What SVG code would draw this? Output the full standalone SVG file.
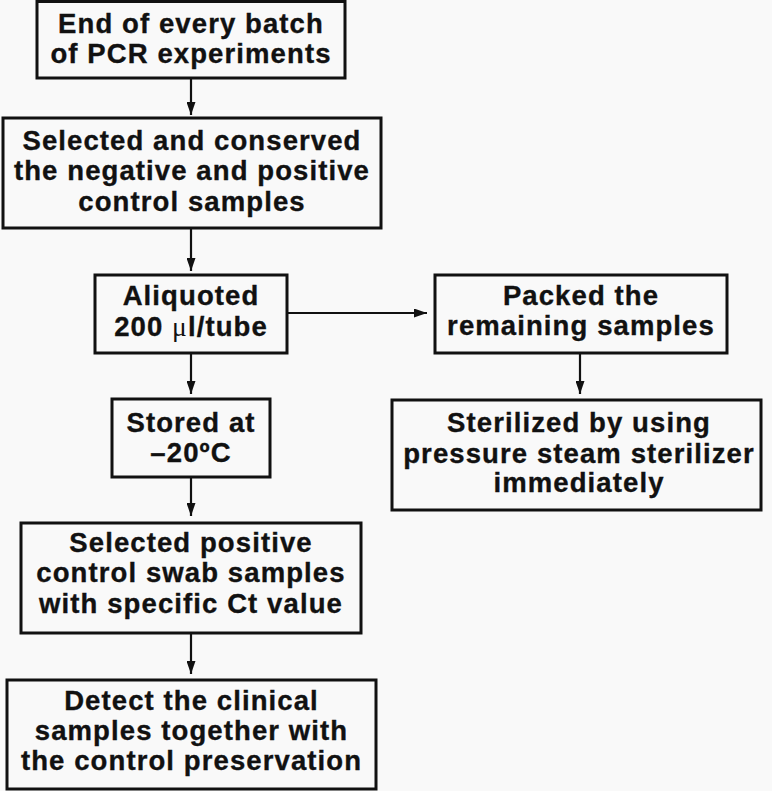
<svg xmlns="http://www.w3.org/2000/svg" width="772" height="791" viewBox="0 0 772 791">
<defs>
<style>
.box{fill:#f9f9f9;stroke:#111111;stroke-width:3}
.t{font-family:"Liberation Sans",Arial,Helvetica,sans-serif;font-weight:bold;font-size:27.5px;fill:#111111;stroke:#111111;stroke-width:0.35;text-anchor:middle;letter-spacing:1.1px}
.mu{font-family:"Liberation Serif","Times New Roman",serif;font-weight:normal;stroke-width:0}
.c{stroke:#111111;stroke-width:2.2;fill:none}
</style>
<marker id="ah" viewBox="0 0 13 9" refX="13" refY="4.5" markerWidth="13" markerHeight="9" markerUnits="userSpaceOnUse" orient="auto">
<path d="M0,0 L13,4.5 L0,9 z" fill="#111111"/>
</marker>
</defs>
<rect x="0" y="0" width="772" height="791" fill="#f9f9f9"/>
<g id="connectors">
<line class="c" x1="191" y1="78" x2="191" y2="115" marker-end="url(#ah)"/>
<line class="c" x1="191" y1="228" x2="191" y2="271" marker-end="url(#ah)"/>
<line class="c" x1="191" y1="353" x2="191" y2="394" marker-end="url(#ah)"/>
<line class="c" x1="191" y1="477" x2="191" y2="516" marker-end="url(#ah)"/>
<line class="c" x1="191" y1="633" x2="191" y2="674" marker-end="url(#ah)"/>
<line class="c" x1="287" y1="313" x2="427" y2="313" marker-end="url(#ah)"/>
<line class="c" x1="580" y1="353" x2="580" y2="394" marker-end="url(#ah)"/>
</g>
<g id="n1">
<rect class="box" x="37" y="1.5" width="308" height="76.5"/>
<text class="t" x="191" y="33">End of every batch</text>
<text class="t" x="191" y="63">of PCR experiments</text>
</g>
<g id="n2">
<rect class="box" x="3" y="118" width="378" height="110"/>
<text class="t" x="192" y="150">Selected and conserved</text>
<text class="t" x="192" y="180">the negative and positive</text>
<text class="t" x="192" y="211">control samples</text>
</g>
<g id="n3">
<rect class="box" x="95" y="275" width="192" height="78"/>
<text class="t" x="191" y="305">Aliquoted</text>
<text class="t" x="191" y="336">200 <tspan class="mu">μ</tspan>l/tube</text>
</g>
<g id="n4">
<rect class="box" x="435" y="275" width="292" height="78"/>
<text class="t" x="581" y="305">Packed the</text>
<text class="t" x="581" y="335">remaining samples</text>
</g>
<g id="n5">
<rect class="box" x="112" y="399" width="158" height="78"/>
<text class="t" x="191" y="432">Stored at</text>
<text class="t" x="191" y="462">–20ºC</text>
</g>
<g id="n6">
<rect class="box" x="392" y="400" width="369" height="110"/>
<text class="t" x="579" y="432">Sterilized by using</text>
<text class="t" x="579" y="463">pressure steam sterilizer</text>
<text class="t" x="579" y="492">immediately</text>
</g>
<g id="n7">
<rect class="box" x="21" y="523" width="340" height="110"/>
<text class="t" x="191" y="552">Selected positive</text>
<text class="t" x="191" y="582">control swab samples</text>
<text class="t" x="191" y="613">with specific Ct value</text>
</g>
<g id="n8">
<rect class="box" x="7" y="680" width="369" height="109"/>
<text class="t" x="191.5" y="710">Detect the clinical</text>
<text class="t" x="191.5" y="740">samples together with</text>
<text class="t" x="191.5" y="770">the control preservation</text>
</g>
</svg>
